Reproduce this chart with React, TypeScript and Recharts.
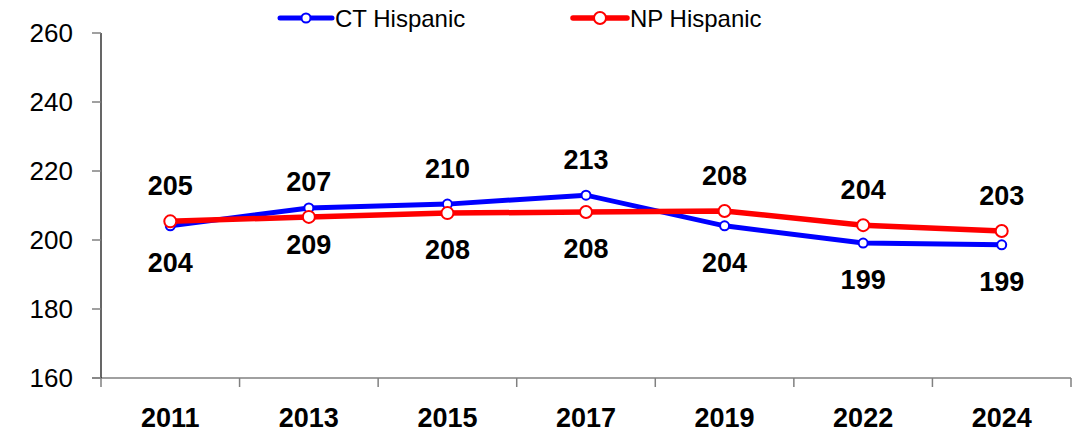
import { LineChart, Line, XAxis, YAxis, LabelList } from 'recharts';

const years = ['2011', '2013', '2015', '2017', '2019', '2022', '2024'];
const ctHispanic = [204.1, 209.3, 210.4, 213.0, 204.1, 199.1, 198.6];
const npHispanic = [205.4, 206.7, 207.8, 208.1, 208.4, 204.3, 202.6];
const yTicks = [160, 180, 200, 220, 240, 260];

// which series gets its label above the point (the other one goes below)
const ctAbove = [false, false, true, true, false, false, false];
const npAbove = [true, true, false, false, true, true, true];

const data = years.map((y, i) => ({ year: y, ct: ctHispanic[i], np: npHispanic[i] }));

const W = 1084;
const H = 434;
const X_H = 30;
const M = { top: 33, right: 13, bottom: 56 - X_H, left: 0 };
const Y_W = 101;
const HALF_BAND = (W - Y_W - M.right) / years.length / 2;
const FONT = '"Liberation Sans", Arial, sans-serif';

const makeLabel = (above: boolean[]) => (p: any) => {
  const { x, y, value, index } = p;
  const up = above[index];
  return (
    <text x={x} y={up ? y - 35 : y + 37} textAnchor="middle" dominantBaseline="central"
      fontFamily={FONT} fontWeight="bold" fontSize={27} fill="#000">
      {Math.round(value)}
    </text>
  );
};

const XTick = (p: any) => {
  const { x, y, payload, index } = p;
  const last = index === years.length - 1;
  return (
    <g>
      {index === 0 && <line x1={x - HALF_BAND - 9} x2={x - HALF_BAND} y1={y} y2={y} stroke="#808080" strokeWidth={1.5} />}
      <line x1={x - HALF_BAND} x2={x - HALF_BAND} y1={y} y2={y + 9} stroke="#808080" strokeWidth={1.5} />
      {last && <line x1={x + HALF_BAND} x2={x + HALF_BAND} y1={y} y2={y + 9} stroke="#808080" strokeWidth={1.5} />}
      <text x={x} y={y + 40} textAnchor="middle" dominantBaseline="central"
        fontFamily={FONT} fontWeight="bold" fontSize={27} fill="#000">
        {payload.value}
      </text>
    </g>
  );
};

const legendItems = [
  { name: 'CT Hispanic', color: '#0000FF', x: 280, w: 52, r: 4.5, sw: 5 },
  { name: 'NP Hispanic', color: '#FF0000', x: 573, w: 54, r: 6, sw: 5.5 },
];

export default function App() {
  return (
    <div style={{ position: 'absolute', left: 0, top: 0, width: W, height: H, background: '#fff' }}>
      <LineChart width={W} height={H} data={data} margin={M}>
        <XAxis dataKey="year" height={X_H} padding={{ left: HALF_BAND, right: HALF_BAND }} tickLine={false}
          tickSize={0} tickMargin={0} axisLine={{ stroke: '#808080', strokeWidth: 1.5 }}
          tick={<XTick />} interval={0} />
        <YAxis width={Y_W} domain={[160, 260]} ticks={yTicks} interval={0}
          tickSize={9} tickMargin={19} tickLine={{ stroke: '#808080', strokeWidth: 1.5 }}
          axisLine={{ stroke: '#000', strokeWidth: 1.2 }}
          tick={{ fontFamily: FONT, fontSize: 26, fill: '#000' }} />
        <Line dataKey="ct" name="CT Hispanic" stroke="#0000FF" strokeWidth={5} isAnimationActive={false}
          dot={{ r: 4.5, fill: '#fff', stroke: '#0000FF', strokeWidth: 2 }}>
          <LabelList dataKey="ct" content={makeLabel(ctAbove)} />
        </Line>
        <Line dataKey="np" name="NP Hispanic" stroke="#FF0000" strokeWidth={5.5} isAnimationActive={false}
          dot={{ r: 6, fill: '#fff', stroke: '#FF0000', strokeWidth: 2 }}>
          <LabelList dataKey="np" content={makeLabel(npAbove)} />
        </Line>
      </LineChart>
      <svg width={W} height={40} style={{ position: 'absolute', left: 0, top: 0 }}>
        {legendItems.map((it) => (
          <g key={it.name}>
            <line x1={it.x} x2={it.x + it.w} y1={18} y2={18} stroke={it.color} strokeWidth={it.sw} strokeLinecap="round" />
            <circle cx={it.x + it.w / 2} cy={18} r={it.r} fill="#fff" stroke={it.color} strokeWidth={2} />
            <text x={it.x + it.w + 3} y={18} dominantBaseline="central" fontFamily={FONT} fontSize={24} fill="#000">
              {it.name}
            </text>
          </g>
        ))}
      </svg>
    </div>
  );
}
